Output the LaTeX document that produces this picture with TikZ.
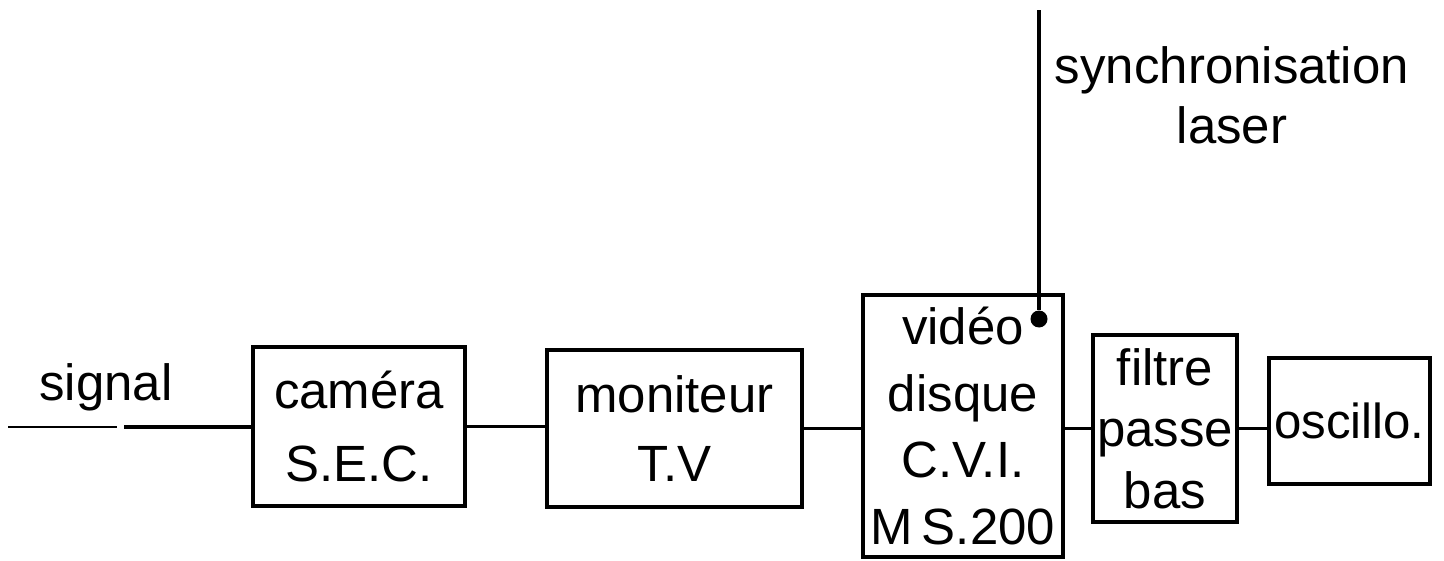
\documentclass[tikz,border=0pt]{standalone}
\usepackage{fontspec}
\setsansfont{Liberation Sans}

\begin{document}
\begin{tikzpicture}[x=0.02cm,y=-0.02cm,
  every node/.style={font=\sffamily\fontsize{29}{38}\selectfont},
  bloc/.style={draw, line width=2pt, inner sep=0pt, align=center},
  trait/.style={line width=2.2pt}]
  \useasboundingbox (0,0) rectangle (1444,561);

  % Blocs
  \node[bloc, minimum width=4.24cm, minimum height=3.18cm,
        font=\sffamily\fontsize{29}{42}\selectfont] (cam) at (359,426.5) {caméra\\S.E.C.};
  \node[bloc, minimum width=5.10cm, minimum height=3.14cm,
        font=\sffamily\fontsize{29}{39}\selectfont] (mon) at (674.5,428.5) {moniteur\\T.V};
  \node[bloc, minimum width=4.00cm, minimum height=5.24cm] (vid) at (963,426) {vidéo\\disque\\C.V.I.\\M\,S.200};
  \node[bloc, minimum width=2.88cm, minimum height=3.74cm,
        font=\sffamily\fontsize{29}{35}\selectfont] (fil) at (1165,428.5) {filtre\\passe\\bas};
  \node[bloc, minimum width=3.22cm, minimum height=2.52cm,
        font=\sffamily\fontsize{28}{38}\selectfont] (osc) at (1349.5,421) {oscillo.};

  % Entree signal
  \coordinate (sigin) at (8,427);
  \coordinate (siga) at (117,427);
  \coordinate (sigb) at (124,427);
  \draw[line width=1.6pt] (sigin) -- (siga);
  \draw[trait] (sigb) -- (sigb -| cam.west);
  \node[anchor=base] (sig) at (106,400) {signal};

  % Liaisons
  \draw[trait] (cam.east) -- (cam.east -| mon.west);
  \draw[trait] (mon.east) -- (mon.east -| vid.west);
  \draw[trait] (vid.east |- fil.west) -- (fil.west);
  \draw[trait] (fil.east) -- (fil.east -| osc.west);

  % Synchronisation laser
  \coordinate (synctop) at (1039,10);
  \node[circle, fill, inner sep=0pt, minimum size=0.34cm] (syncdot) at (1039,319) {};
  \draw[line width=2.8pt] (synctop) -- (syncdot);
  \node[align=center, font=\sffamily\fontsize{29}{34}\selectfont] (sync) at (1232,95) {synchronisation\\laser};

\end{tikzpicture}
\end{document}
